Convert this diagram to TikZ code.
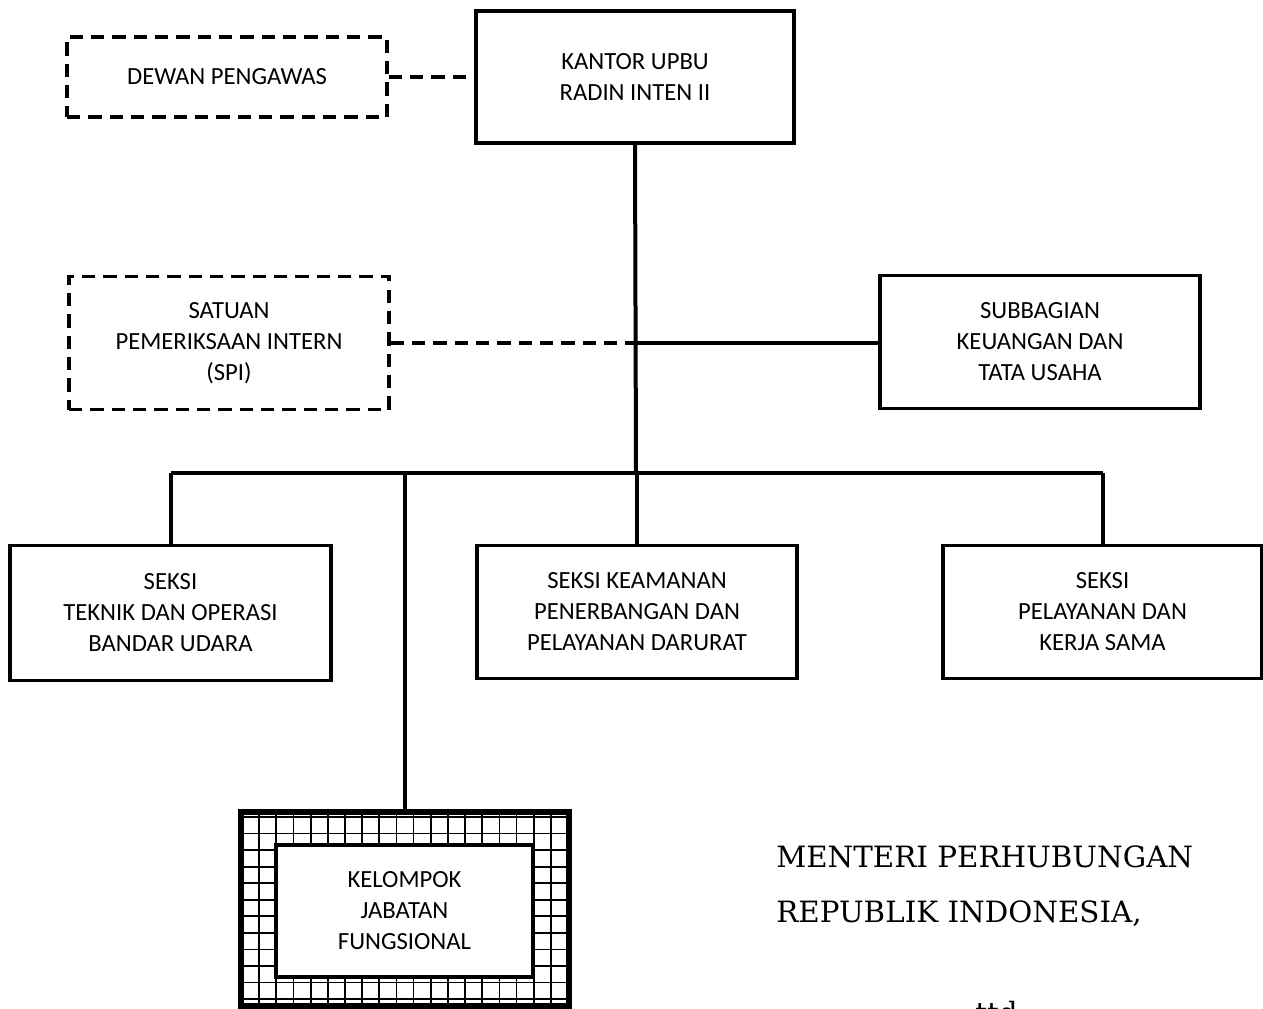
\documentclass[tikz,border=0pt]{standalone}
\usepackage{fontspec}
\setmainfont{Carlito}
\newfontfamily\sigfont{DejaVu Serif}
\begin{document}
\begin{tikzpicture}[x=0.75pt,y=-0.75pt,
  box/.style={draw=black, line width=2.4pt, align=center, inner sep=0pt,
    font=\fontsize{18.5}{23.25}\selectfont, fill=white},
  dbox/.style={box, dash pattern=on 10pt off 6pt},
  conn/.style={line width=3pt},
  dconn/.style={line width=3pt, dash pattern=on 10pt off 6pt},
  sig/.style={anchor=base west, inner sep=0pt, font=\sigfont\fontsize{22}{27}\selectfont}
]
\useasboundingbox[fill=white] (0,0) rectangle (1263,1009);

% nodes
\node[dbox, minimum width=240pt, minimum height=60pt] (dewan) at (227,77) {DEWAN PENGAWAS};
\node[box, minimum width=238.5pt, minimum height=99pt] (kantor) at (635,77) {KANTOR UPBU\\RADIN INTEN II};
\node[dbox, minimum width=240pt, minimum height=99.75pt] (spi) at (229,343) {SATUAN\\PEMERIKSAAN INTERN\\(SPI)};
\node[box, minimum width=240pt, minimum height=99.75pt] (subbag) at (1040,342) {SUBBAGIAN\\KEUANGAN DAN\\TATA USAHA};
\node[box, minimum width=240.75pt, minimum height=101.25pt] (teknik) at (170.5,613) {SEKSI\\TEKNIK DAN OPERASI\\BANDAR UDARA};
\node[box, minimum width=240pt, minimum height=99.75pt] (keamanan) at (637,612) {SEKSI KEAMANAN\\PENERBANGAN DAN\\PELAYANAN DARURAT};
\node[box, minimum width=239.25pt, minimum height=99.75pt] (pelayanan) at (1102.5,612) {SEKSI\\PELAYANAN DAN\\KERJA SAMA};

% grid frame for kelompok jabatan fungsional
\node[draw=black, line width=3pt, minimum width=244.5pt, minimum height=144pt, inner sep=0pt] (kjfouter) at (405,909) {};
\begin{scope}
  \clip (kjfouter.south west) rectangle (kjfouter.north east);
  \foreach \k in {0,...,19} {
    \draw[line width=1.3pt] ({242+\k*17.16},800) -- ({242+\k*17.16},1020);
  }
  \foreach \k in {0,...,11} {
    \draw[line width=1.3pt] (230,{817+\k*16.55}) -- (580,{817+\k*16.55});
  }
\end{scope}
\draw[line width=3pt] (kjfouter.south west) rectangle (kjfouter.north east);
\node[box, line width=3pt, minimum width=192.75pt, minimum height=99pt] (kjf) at (404.5,911) {KELOMPOK\\JABATAN\\FUNGSIONAL};

% coordinates
\coordinate (jspi) at (kantor.south |- spi.east);
\coordinate (bus) at (636,473);
\coordinate (busL) at (teknik.north |- bus);
\coordinate (busR) at (pelayanan.north |- bus);
\coordinate (busK) at (kjf.north |- bus);

% connectors
\draw[dconn] (dewan.east) -- (dewan.east -| kantor.west);
\draw[conn] (kantor.south) -- (bus);
\draw[dconn] (spi.east) -- (jspi);
\draw[conn] (jspi) -- (jspi -| subbag.west);
\draw[conn] (busL) -- (busR);
\draw[conn] (busL) -- (teknik.north);
\draw[conn] (bus) -- (bus -| keamanan.north) -- (keamanan.north);
\draw[conn] (busR) -- (pelayanan.north);
\draw[conn] (busK) -- (kjfouter.north -| busK);

% signature text
\node[sig] (menteri) at (776,867) {MENTERI PERHUBUNGAN};
\node[sig] (republik) at (776,922) {REPUBLIK INDONESIA,};
\node[sig] (ttd) at (975,1023) {ttd};
\end{tikzpicture}
\end{document}
